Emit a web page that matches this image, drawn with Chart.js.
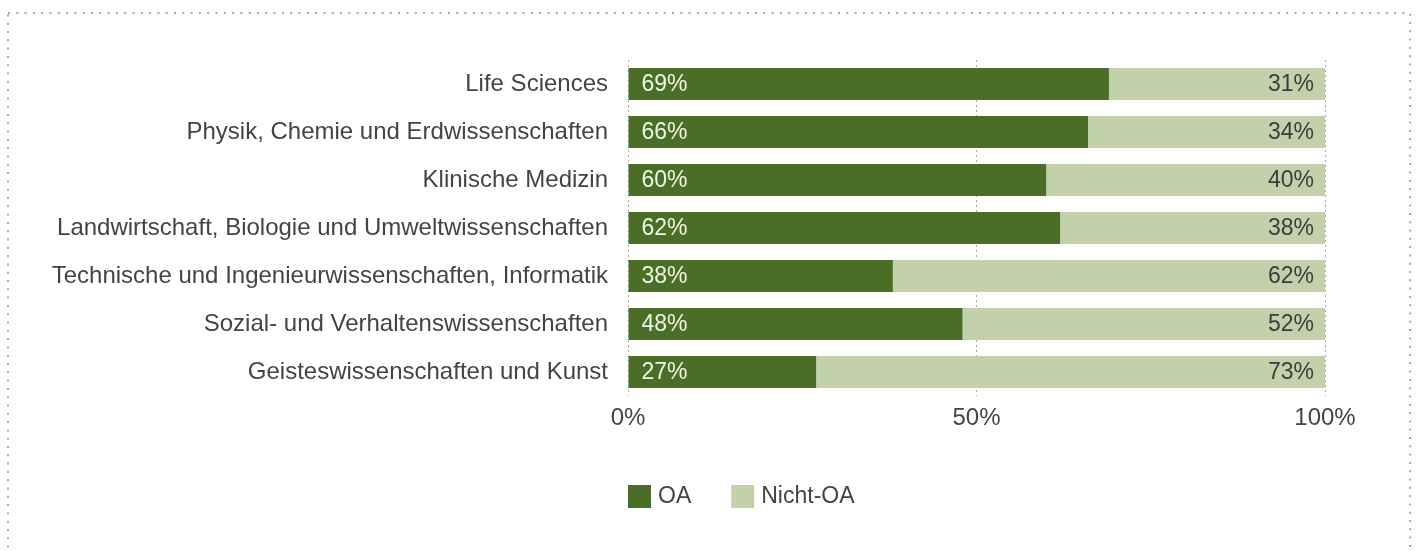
<!doctype html>
<html>
<head>
<title>OA-Anteil nach Fachgebiet</title>
<style>
body {
  margin: 0;
  background: #fff;
}
</style>
</head>
<body>
<canvas id="myChart" width="1417" height="551"></canvas>

<script src="https://cdn.jsdelivr.net/npm/chart.js@4/dist/chart.umd.min.js"></script>
<script>

var categories = [
  'Life Sciences',
  'Physik, Chemie und Erdwissenschaften',
  'Klinische Medizin',
  'Landwirtschaft, Biologie und Umweltwissenschaften',
  'Technische und Ingenieurwissenschaften, Informatik',
  'Sozial- und Verhaltenswissenschaften',
  'Geisteswissenschaften und Kunst'
];
var oaValues = [69, 66, 60, 62, 38, 48, 27];
var nichtOaValues = [31, 34, 40, 38, 62, 52, 73];
var seriesNames = ['OA', 'Nicht-OA'];
var tickValues = [0, 50, 100];

var FONT = '"Liberation Sans", Arial, sans-serif';
var TEXT = '#444444';

// dotted frame round the whole picture
var framePlugin = {
  id: 'frame',
  beforeDraw: function(chart) {
    var ctx = chart.ctx;
    ctx.save();
    ctx.strokeStyle = '#aaaaaa';
    ctx.lineWidth = 2;
    ctx.setLineDash([2, 6.3]);
    ctx.strokeRect(8, 13, 1402, 600);
    ctx.restore();
  }
};

// percent labels inside the bars
var barLabels = {
  id: 'barLabels',
  afterDatasetsDraw: function(chart) {
    var ctx = chart.ctx;
    ctx.save();
    ctx.font = '23px ' + FONT;
    ctx.textBaseline = 'middle';
    chart.data.datasets.forEach(function(ds, i) {
      var meta = chart.getDatasetMeta(i);
      meta.data.forEach(function(bar, j) {
        var txt = ds.data[j] + '%';
        if (i === 0) {
          ctx.fillStyle = '#eef4e6';
          ctx.textAlign = 'left';
          ctx.fillText(txt, bar.base + 13, bar.y + 1);
        } else {
          ctx.fillStyle = '#3c3c3c';
          ctx.textAlign = 'right';
          ctx.fillText(txt, bar.x - 11, bar.y + 1);
        }
      });
    });
    ctx.restore();
  }
};

// legend below, starting at the left edge of the plot
var legendPlugin = {
  id: 'bottomLegend',
  afterDraw: function(chart) {
    var ctx = chart.ctx;
    var x = chart.chartArea.left;
    var y = 485;
    ctx.save();
    ctx.font = '23px ' + FONT;
    ctx.textBaseline = 'middle';
    ctx.textAlign = 'left';
    chart.data.datasets.forEach(function(ds) {
      ctx.fillStyle = ds.backgroundColor;
      ctx.fillRect(x, y, 23, 23);
      x += 30;
      ctx.fillStyle = TEXT;
      ctx.fillText(ds.label, x, y + 12);
      x += ctx.measureText(ds.label).width + 40;
    });
    ctx.restore();
  }
};

var ctx = document.getElementById('myChart').getContext('2d');
var myChart = new Chart(ctx, {
  type: 'bar',
  data: {
    labels: categories,
    datasets: [{
      label: seriesNames[0],
      data: oaValues,
      backgroundColor: '#4b6e27',
      barPercentage: 0.667,
      categoryPercentage: 1
    }, {
      label: seriesNames[1],
      data: nichtOaValues,
      backgroundColor: '#c3d1aa',
      barPercentage: 0.667,
      categoryPercentage: 1
    }]
  },
  options: {
    indexAxis: 'y',
    responsive: false,
    animation: false,
    layout: {
      padding: { left: 0, right: 92, top: 60, bottom: 115 }
    },
    plugins: {
      legend: { display: false },
      tooltip: { enabled: false }
    },
    scales: {
      x: {
        stacked: true,
        min: 0,
        max: 100,
        afterBuildTicks: function(scale) {
          scale.ticks = tickValues.map(function(v) { return { value: v }; });
        },
        afterFit: function(scale) { scale.height = 40; },
        border: { display: false, dash: [2, 3] },
        grid: {
          color: '#a8a8a8',
          lineWidth: 1,
          drawTicks: false
        },
        ticks: {
          padding: 8,
          color: TEXT,
          font: { family: FONT, size: 24 },
          callback: function(v) { return v + '%'; }
        }
      },
      y: {
        stacked: true,
        afterFit: function(scale) { scale.width = 628; },
        border: { display: false },
        grid: { display: false, drawTicks: false },
        ticks: {
          padding: 20,
          color: TEXT,
          font: { family: FONT, size: 24 }
        }
      }
    }
  },
  plugins: [framePlugin, barLabels, legendPlugin]
});

</script>
</body>
</html>
